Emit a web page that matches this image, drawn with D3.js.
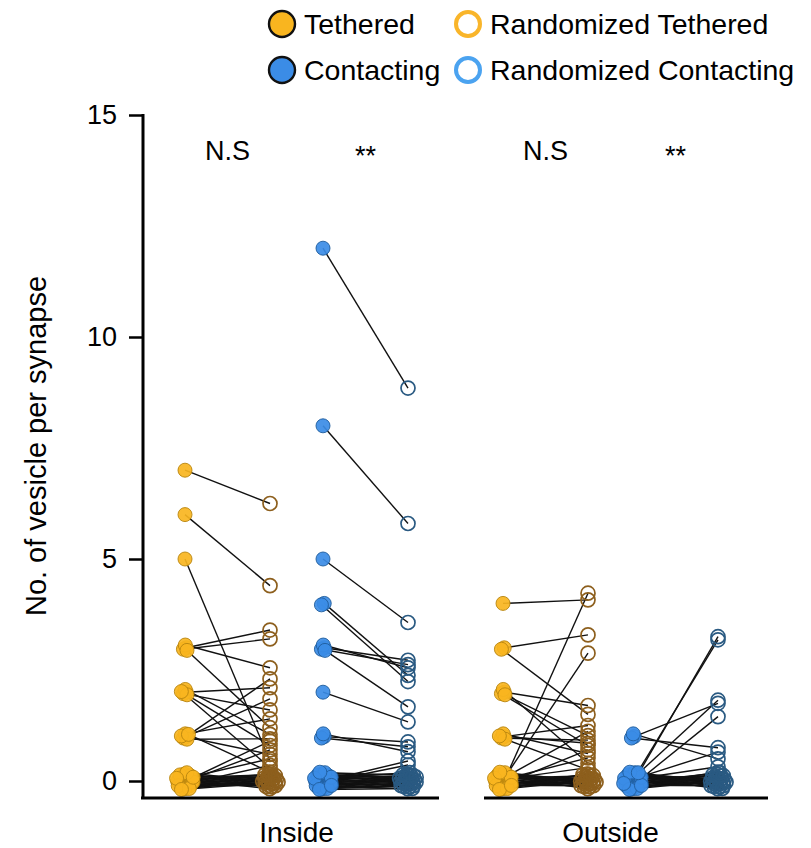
<!DOCTYPE html>
<html>
<head>
<meta charset="utf-8">
<script src="https://cdn.jsdelivr.net/npm/d3@7"></script>
<style>
  body { margin: 0; background: #fff; }
  text { font-family: "Liberation Sans", Arial, sans-serif; fill: #000; }
</style>
</head>
<body>
<div id="chart"></div>
<script>
// ===========================================
// Data: observed value per synapse and its randomized counterpart
var regions = ["Inside", "Outside"];
var signif = ["N.S", "**", "N.S", "**"];
var yTicks = [0, 5, 10, 15];

var insideTethered = [7, 6, 5, 3, 3, 3, 3, 2, 2, 2, 2, 2, 1, 1, 1, 1, 1, 1,
  0, 0, 0, 0, 0, 0, 0, 0, 0, 0, 0, 0, 0, 0, 0, 0, 0, 0, 0, 0, 0, 0, 0, 0, 0, 0, 0, 0];
var insideTetheredRand = [6.25, 4.4, 0.45, 3.4, 3.2, 2.55, 1.2, 2.1, 1.6, 1.05, 0.8, 0.3, 2.3, 1.85, 1.4, 0.95, 0.6, 0.2,
  0.9, 0.7, 0.5, 0.35, 0.15, 0.1, 0, 0, 0, 0, 0, 0, 0, 0, 0, 0, 0, 0, 0, 0, 0, 0, 0, 0, 0, 0, 0, 0];

var insideContacting = [12, 8, 5, 4, 4, 3, 3, 3, 3, 2, 1, 1, 1,
  0, 0, 0, 0, 0, 0, 0, 0, 0, 0, 0, 0, 0, 0, 0, 0, 0, 0, 0, 0, 0, 0, 0, 0, 0, 0, 0, 0, 0, 0];
var insideContactingRand = [8.85, 5.8, 3.57, 2.38, 2.24, 2.72, 2.62, 2.55, 1.67, 1.33, 0.88, 0.77, 0.66,
  0.45, 0.36, 0.12, 0, 0, 0, 0, 0, 0, 0, 0, 0, 0, 0, 0, 0, 0, 0, 0, 0, 0, 0, 0, 0, 0, 0, 0, 0, 0, 0];

var outsideTethered = [4, 3, 3, 2, 2, 2, 2, 1, 1, 1, 1, 1,
  0, 0, 0, 0, 0, 0, 0, 0, 0, 0, 0, 0, 0, 0, 0, 0, 0, 0, 0, 0, 0, 0, 0, 0, 0, 0, 0, 0, 0, 0];
var outsideTetheredRand = [4.08, 3.29, 1.5, 1.7, 0.8, 0.4, 1.02, 1.25, 0.92, 0.62, 0.25, 0.85,
  4.23, 2.88, 1.12, 0.7, 0.52, 0.3, 0.15, 0, 0, 0, 0, 0, 0, 0, 0, 0, 0, 0, 0, 0, 0, 0, 0, 0, 0, 0, 0, 0, 0, 0];

var outsideContacting = [1, 1, 1,
  0, 0, 0, 0, 0, 0, 0, 0, 0, 0, 0, 0, 0, 0, 0, 0, 0, 0, 0, 0, 0, 0, 0, 0, 0, 0, 0, 0, 0, 0, 0, 0];
var outsideContactingRand = [1.75, 0.75, 0.5,
  3.25, 3.18, 1.82, 1.45, 0.65, 0.32, 0.2, 0, 0, 0, 0, 0, 0, 0, 0, 0, 0, 0, 0, 0, 0, 0, 0, 0, 0, 0, 0, 0, 0, 0, 0, 0];

// ===========================================
// Set up SVG
var svgWidth = 811;
var svgHeight = 848;

var svg = d3.select("#chart")
  .append("svg")
  .attr("width", svgWidth)
  .attr("height", svgHeight);

var columns = ["inT", "inTr", "inC", "inCr", "outT", "outTr", "outC", "outCr"];
var x = d3.scaleOrdinal().domain(columns).range([185, 270, 323, 408, 503, 588, 633, 718]);
var y = d3.scaleLinear().domain([0, 15]).range([781, 115]);

var tFill = "#f9b51f", tEdge = "#b8840f", tRand = "#8d5f1d";
var cFill = "#3b8ce6", cEdge = "#1f5c9c", cRand = "#2a5a82";

var groups = [
  {obs: insideTethered, rand: insideTetheredRand, a: "inT", b: "inTr", fill: tFill, edge: tEdge, open: tRand},
  {obs: insideContacting, rand: insideContactingRand, a: "inC", b: "inCr", fill: cFill, edge: cEdge, open: cRand},
  {obs: outsideTethered, rand: outsideTetheredRand, a: "outT", b: "outTr", fill: tFill, edge: tEdge, open: tRand},
  {obs: outsideContacting, rand: outsideContactingRand, a: "outC", b: "outCr", fill: cFill, edge: cEdge, open: cRand}
];

// deterministic sunflower spread for points sharing the same value
function spread(values) {
  var seen = {}, counts = {};
  values.forEach(function(v) { counts[v] = (counts[v] || 0) + 1; });
  return values.map(function(v) {
    var i = seen[v] || 0;
    seen[v] = i + 1;
    if (counts[v] < 2) return [0, 0];
    var r = 1.75 * Math.sqrt(i + 0.5);
    var t = i * 2.39996;
    return [r * Math.cos(t), r * Math.sin(t)];
  });
}

var plot = svg.append("g");

groups.forEach(function(g) {
  var jo = spread(g.obs), jr = spread(g.rand);
  var pairs = g.obs.map(function(v, i) {
    return {
      x1: x(g.a) + jo[i][0], y1: y(v) + jo[i][1],
      x2: x(g.b) + jr[i][0], y2: y(g.rand[i]) + jr[i][1]
    };
  });

  plot.append("g").selectAll("line")
    .data(pairs)
    .enter()
    .append("line")
    .attr("x1", d => d.x1).attr("y1", d => d.y1)
    .attr("x2", d => d.x2).attr("y2", d => d.y2)
    .attr("stroke", "#111")
    .attr("stroke-width", 1.4);

  plot.append("g").selectAll("circle")
    .data(pairs)
    .enter()
    .append("circle")
    .attr("cx", d => d.x2).attr("cy", d => d.y2)
    .attr("r", 7)
    .attr("fill", "none")
    .attr("stroke", g.open)
    .attr("stroke-width", 1.7);

  plot.append("g").selectAll("circle")
    .data(pairs)
    .enter()
    .append("circle")
    .attr("cx", d => d.x1).attr("cy", d => d.y1)
    .attr("r", 7)
    .attr("fill", g.fill)
    .attr("fill-opacity", 0.92)
    .attr("stroke", g.edge)
    .attr("stroke-width", 0.9);
});

// ===========================================
// Axes
var yAxis = svg.append("g")
  .attr("transform", "translate(143,0)")
  .call(d3.axisLeft(y).tickValues(yTicks).tickSize(14).tickSizeOuter(0).tickPadding(12));
yAxis.select(".domain").remove();
yAxis.selectAll(".tick line").attr("stroke", "#000").attr("stroke-width", 2.5);
yAxis.selectAll(".tick text")
  .attr("font-size", "27px")
  .attr("font-family", "Liberation Sans, Arial, sans-serif")
  .attr("fill", "#000");

svg.append("line")
  .attr("x1", 143).attr("x2", 143)
  .attr("y1", y(15) - 1).attr("y2", 799)
  .attr("stroke", "#000").attr("stroke-width", 3);

var xSegments = [[141, 439], [484, 768]];
svg.selectAll(".xseg")
  .data(xSegments)
  .enter()
  .append("line")
  .attr("x1", d => d[0]).attr("x2", d => d[1])
  .attr("y1", 798).attr("y2", 798)
  .attr("stroke", "#000").attr("stroke-width", 3);

svg.selectAll(".region")
  .data(regions)
  .enter()
  .append("text")
  .attr("x", (d, i) => i === 0 ? (x("inT") + x("inCr")) / 2 : (x("outT") + x("outCr")) / 2)
  .attr("y", 842)
  .attr("text-anchor", "middle")
  .attr("font-size", "28px")
  .text(d => d);

var sigX = [
  (x("inT") + x("inTr")) / 2, (x("inC") + x("inCr")) / 2,
  (x("outT") + x("outTr")) / 2, (x("outC") + x("outCr")) / 2
];
svg.selectAll(".sig")
  .data(signif)
  .enter()
  .append("text")
  .attr("x", (d, i) => sigX[i])
  .attr("y", (d, i) => d === "**" ? 165 : 160)
  .attr("text-anchor", "middle")
  .attr("font-size", "27px")
  .text(d => d);

svg.append("text")
  .attr("transform", "translate(46, 446) rotate(-90)")
  .attr("text-anchor", "middle")
  .attr("font-size", "29px")
  .text("No. of vesicle per synapse");

// ===========================================
// Legend
var legend = [
  {label: "Tethered", x: 282, y: 24, fill: tFill, stroke: "#111", sw: 2.4},
  {label: "Randomized Tethered", x: 468, y: 24, fill: "none", stroke: "#f9b52a", sw: 4},
  {label: "Contacting", x: 282, y: 70, fill: cFill, stroke: "#111", sw: 2.4},
  {label: "Randomized Contacting", x: 468, y: 70, fill: "none", stroke: "#4ba3f0", sw: 4}
];
var lg = svg.append("g").selectAll("g")
  .data(legend)
  .enter()
  .append("g")
  .attr("transform", d => `translate(${d.x},${d.y})`);
lg.append("circle")
  .attr("r", d => d.fill === "none" ? 12 : 13)
  .attr("fill", d => d.fill)
  .attr("stroke", d => d.stroke)
  .attr("stroke-width", d => d.sw);
lg.append("text")
  .attr("x", 22)
  .attr("dy", "0.36em")
  .attr("font-size", "28.5px")
  .text(d => d.label);
</script>
</body>
</html>
